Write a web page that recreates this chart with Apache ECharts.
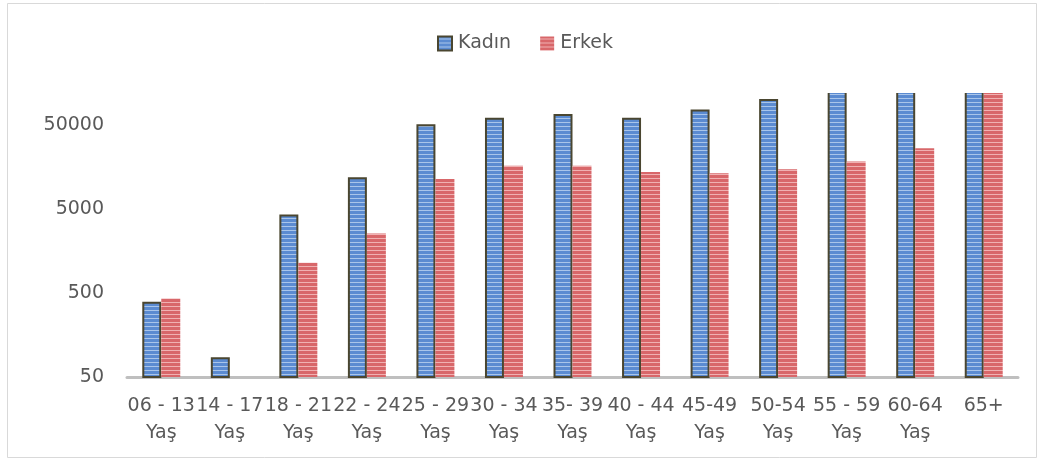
<!DOCTYPE html>
<html>
<head>
<meta charset="utf-8">
<script src="https://cdn.jsdelivr.net/npm/echarts@6/dist/echarts.min.js"></script>
<style>
  html, body { margin: 0; padding: 0; background: #fff; }
  #chart { width: 1038px; height: 460px; }
</style>
</head>
<body>
<div id="chart"></div>
<script>
// Age groups and counts per gender
const categories = ['06 - 13\nYaş', '14 - 17\nYaş', '18 - 21\nYaş', '22 - 24\nYaş', '25 - 29\nYaş',
  '30 - 34\nYaş', '35- 39\nYaş', '40 - 44\nYaş', '45-49\nYaş', '50-54\nYaş', '55 - 59\nYaş',
  '60-64\nYaş', '65+'];
const kadin = [394, 86, 4330, 12000, 51400, 61700, 68200, 61700, 77500, 102800, 150000, 170000, 300000];
const erkek = [432, 45, 1150, 2570, 11500, 16500, 16500, 13900, 13400, 15000, 18600, 26600, 200000];
const yTicks = [50, 500, 5000, 50000];

// Horizontal stripe fill, drawn on a small tile that repeats
function stripes(base, light) {
  const c = document.createElement('canvas');
  c.width = 4; c.height = 4;
  const ctx = c.getContext('2d');
  ctx.fillStyle = base; ctx.fillRect(0, 0, 4, 4);
  ctx.fillStyle = light; ctx.fillRect(0, 2, 4, 1);
  return { image: c, repeat: 'repeat' };
}

const textColor = '#595959';
const font = 'DejaVu Sans';
const gridTop = 92;

const chart = echarts.init(document.getElementById('chart'));
chart.setOption({
  animation: false,
  backgroundColor: '#fff',
  graphic: [{
    // bars taller than the axis maximum are cut open at the top edge, without an outline
    type: 'rect', z: 10, silent: true,
    shape: { x: 100, y: 60, width: 938, height: gridTop + 1 - 60 },
    style: { fill: '#fff' }
  }, {
    type: 'rect', z: 11, silent: true,
    shape: { x: 7.5, y: 3.5, width: 1029, height: 454 },
    style: { fill: 'none', stroke: '#d9d9d9', lineWidth: 1 }
  }],
  legend: {
    top: 34, left: 437, padding: 0,
    icon: 'rect',
    itemWidth: 14, itemHeight: 14, itemGap: 29,
    textStyle: { color: textColor, fontSize: 19, fontFamily: font, padding: [0, 0, 0, 1] },
    data: ['Kadın', 'Erkek']
  },
  grid: { left: 127, right: 20, top: gridTop, bottom: 83, containLabel: false },
  xAxis: {
    type: 'category',
    data: categories,
    axisLine: { lineStyle: { color: '#bfbfbf', width: 3 } },
    axisTick: { show: false },
    axisLabel: {
      interval: 0, color: textColor, fontSize: 19, fontFamily: font,
      lineHeight: 27, margin: 16
    }
  },
  yAxis: {
    type: 'log', logBase: 10, min: 50, max: 125000,
    axisLine: { show: false },
    axisTick: { show: false },
    splitLine: { show: false },
    axisLabel: {
      customValues: yTicks,
      formatter: v => String(Math.round(v)),
      color: textColor, fontSize: 19, fontFamily: font, margin: 23
    }
  },
  series: [{
    name: 'Kadın', type: 'bar', data: kadin,
    barWidth: '27.7%', barGap: '0%',
    itemStyle: { color: stripes('#5b8bd1', '#a9c5ea'), borderColor: '#4a4630', borderWidth: 2 }
  }, {
    name: 'Erkek', type: 'bar', data: erkek,
    barWidth: '27.7%', barGap: '0%',
    itemStyle: { color: stripes('#d8676a', '#f0b1b2') }
  }]
});
</script>
</body>
</html>
